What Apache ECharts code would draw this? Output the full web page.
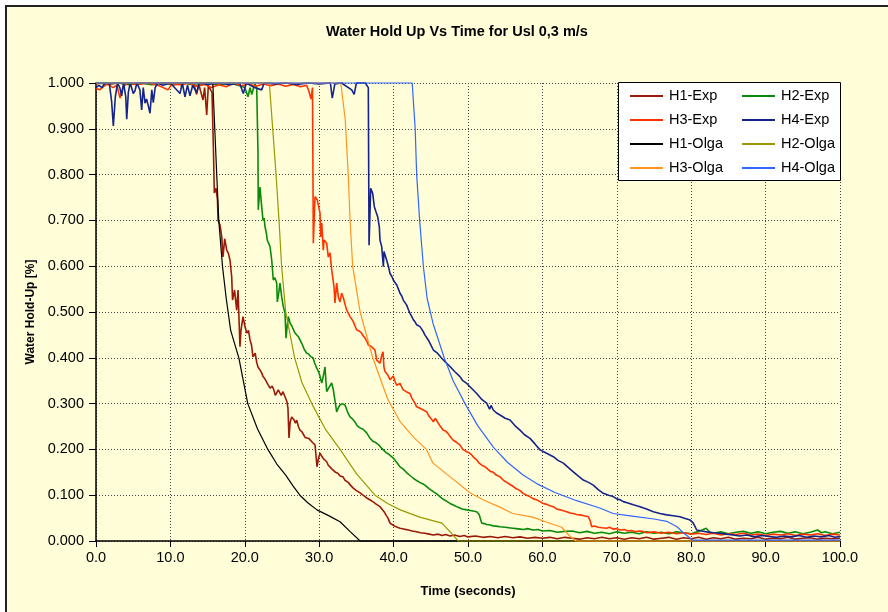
<!DOCTYPE html>
<html>
<head>
<meta charset="utf-8">
<script src="https://cdn.jsdelivr.net/npm/echarts@6/dist/echarts.min.js"></script>
<style>
  html, body { margin: 0; padding: 0; background: #ffffff; overflow: hidden; width: 888px; height: 612px; }
  #frame {
    position: absolute; left: 5px; top: 5px; width: 1000px; height: 700px;
    background: #FFFED9; border: 2px solid #222;
  }
  #chart { position: absolute; left: 0; top: 0; width: 888px; height: 612px; }
</style>
</head>
<body>
<div id="frame"></div>
<div id="chart"></div>
<script>
// Measured water hold-up [fraction] against time [s] at four probes (H1..H4)
const h1Exp = [
  [0,0.998],[0.8,1.0],[1.5,0.997],[3,1.0],[4.5,0.996],[6,1.0],[7.5,0.998],[9,1.0],[10.5,0.996],[12,1.0],
  [13.2,0.995],[13.53,0.975],[13.8,0.998],[14.38,0.963],[14.6,0.99],[14.88,0.93],[15.1,0.995],[15.4,0.985],
  [15.59,0.98],[15.79,0.85],[15.9,0.76],[16.13,0.77],[16.33,0.745],[16.4,0.70],[16.67,0.69],[16.9,0.664],
  [17.07,0.62],[17.3,0.66],[17.57,0.635],[17.8,0.628],[18.01,0.613],[18.24,0.577],[18.35,0.526],[18.62,0.548],
  [18.91,0.504],[19.09,0.548],[19.35,0.424],[19.49,0.46],[19.76,0.49],[20.0,0.47],[20.26,0.454],[20.5,0.46],
  [20.7,0.439],[20.9,0.428],[21.1,0.402],[21.4,0.41],[21.6,0.39],[21.77,0.38],[22.1,0.372],[22.3,0.366],
  [22.45,0.359],[22.7,0.354],[22.9,0.35],[23.1,0.342],[23.39,0.334],[23.7,0.338],[23.9,0.33],[24.1,0.318],
  [24.29,0.32],[24.5,0.33],[24.73,0.323],[24.9,0.318],[25.13,0.326],[25.4,0.315],[25.67,0.304],[25.8,0.29],
  [25.94,0.225],[26.1,0.26],[26.3,0.271],[26.6,0.265],[26.8,0.257],[26.98,0.264],[27.2,0.25],[27.42,0.242],
  [27.7,0.238],[27.9,0.235],[28.1,0.226],[28.32,0.228],[28.6,0.224],[28.8,0.22],[29.1,0.215],[29.44,0.21],
  [29.55,0.19],[29.7,0.162],[29.9,0.18],[30.11,0.192],[30.35,0.185],[30.55,0.18],[30.8,0.176],[31.01,0.173],
  [31.2,0.166],[31.45,0.165],[31.65,0.158],[31.85,0.155],[32.2,0.15],[32.5,0.148],[32.8,0.142],[33.2,0.14],
  [33.5,0.132],[33.9,0.128],[34.2,0.122],[34.54,0.116],[35.0,0.11],[35.5,0.105],[35.9,0.1],[36.38,0.094],
  [36.8,0.09],[37.3,0.085],[37.7,0.08],[38.17,0.075],[38.5,0.068],[38.8,0.062],[39.0,0.056],[39.25,0.05],
  [39.52,0.039],[39.9,0.035],[40.2,0.032],[40.5,0.03],[40.86,0.028],[41.4,0.026],[42.0,0.024],[42.5,0.022],
  [43.1,0.02],[43.6,0.018],[44.2,0.017],[44.8,0.015],[45.34,0.013],[46,0.015],[46.5,0.012],[47,0.014],
  [47.6,0.011],[48.2,0.013],[48.9,0.01],[49.5,0.012],[50,0.009],[51,0.011],[52,0.008],[53,0.01],[54,0.007],
  [55,0.01],[56,0.007],[57,0.009],[58,0.006],[59,0.008],[60,0.006],[61,0.008],[62,0.005],[63,0.008],
  [64,0.006],[65,0.004],[66,0.007],[67,0.005],[68,0.008],[69,0.005],[70,0.007],[71,0.004],[72,0.007],
  [73,0.005],[74,0.008],[75,0.004],[76,0.006],[77,0.008],[78,0.004],[79,0.007],[80,0.005],[81,0.008],
  [82,0.004],[83,0.007],[84,0.005],[85,0.008],[86,0.004],[87,0.006],[88,0.005],[89,0.008],[90,0.004],
  [91,0.006],[92,0.005],[93,0.008],[94,0.004],[95,0.006],[96,0.007],[97,0.004],[98,0.006],[99,0.005],[100,0.006]
];
const h2Exp = [
  [0,1.0],[1.5,0.998],[3,1.0],[4.5,0.997],[6,1.0],[7.5,0.996],[9,1.0],[10.5,0.997],[12,1.0],[13.5,0.995],
  [15,1.0],[16.5,0.996],[18,1.0],[19.3,0.994],[20.0,0.99],[20.43,0.97],[20.7,0.99],[20.93,0.975],[21.2,0.99],
  [21.37,0.998],[21.6,0.99],[21.77,0.85],[21.81,0.723],[22.04,0.773],[22.27,0.73],[22.45,0.70],[22.6,0.705],
  [22.72,0.686],[22.9,0.672],[23.02,0.657],[23.2,0.66],[23.39,0.643],[23.62,0.613],[23.83,0.57],[24.05,0.575],
  [24.29,0.563],[24.37,0.522],[24.55,0.54],[24.73,0.563],[24.96,0.533],[25.17,0.512],[25.4,0.498],[25.54,0.443],
  [25.7,0.47],[25.85,0.49],[26.1,0.475],[26.3,0.47],[26.52,0.468],[26.75,0.454],[27.0,0.45],[27.2,0.446],
  [27.42,0.439],[27.7,0.43],[28.0,0.418],[28.32,0.41],[28.6,0.408],[28.9,0.402],[29.17,0.40],[29.4,0.388],
  [29.66,0.378],[29.9,0.37],[30.1,0.36],[30.34,0.345],[30.55,0.36],[30.78,0.38],[30.9,0.35],[31.01,0.326],
  [31.3,0.335],[31.68,0.345],[31.9,0.33],[32.12,0.326],[32.35,0.282],[32.55,0.29],[32.8,0.297],[33.1,0.3],
  [33.47,0.297],[33.8,0.282],[34.14,0.271],[34.5,0.266],[34.8,0.26],[35.1,0.252],[35.48,0.247],[35.9,0.244],
  [36.38,0.236],[36.8,0.225],[37.27,0.217],[37.6,0.215],[38.0,0.21],[38.3,0.204],[38.62,0.199],[39.0,0.193],
  [39.3,0.19],[39.6,0.186],[39.96,0.181],[40.4,0.172],[40.86,0.162],[41.3,0.157],[41.7,0.15],[42.2,0.143],
  [42.65,0.137],[43.1,0.132],[43.5,0.128],[43.9,0.125],[44.2,0.122],[44.8,0.114],[45.34,0.108],[45.7,0.104],
  [46.0,0.1],[46.5,0.093],[47.0,0.088],[47.58,0.082],[48.1,0.078],[48.6,0.074],[49.2,0.07],[49.83,0.068],
  [50.5,0.066],[51.17,0.064],[51.5,0.058],[51.84,0.039],[52.2,0.038],[52.5,0.036],[53,0.035],[53.4,0.033],
  [54,0.032],[54.3,0.031],[55,0.03],[55.5,0.029],[56,0.028],[56.5,0.027],[57,0.026],[57.5,0.025],[58,0.027],
  [58.74,0.024],[59.4,0.025],[60,0.022],[61,0.023],[62,0.019],[63,0.021],[64,0.022],[65,0.018],[66,0.021],
  [67,0.017],[68,0.019],[69,0.016],[70,0.02],[71,0.017],[72,0.019],[73,0.016],[74,0.02],[75,0.017],[76,0.019],
  [77,0.016],[78,0.02],[79,0.018],[80,0.016],[81,0.021],[82,0.028],[82.5,0.019],[83,0.017],[84,0.02],
  [85,0.016],[86,0.019],[87,0.021],[88,0.017],[89,0.02],[90,0.016],[91,0.019],[92,0.021],[93,0.017],
  [94,0.02],[95,0.016],[96,0.019],[97,0.024],[97.5,0.018],[98,0.02],[99,0.016],[100,0.019]
];
const h3Exp = [
  [0,0.988],[0.5,0.985],[1.0,0.992],[1.5,0.998],[2.3,0.99],[2.8,0.995],[3.23,0.967],[3.6,0.99],[4.2,1.0],
  [5.5,0.996],[7,1.0],[8.5,0.994],[9.68,0.985],[10.2,0.998],[11.5,0.996],[12.5,1.0],[13.5,0.993],[14.6,0.997],
  [15.5,0.99],[16.5,0.996],[17.5,0.992],[18.5,1.0],[19.5,0.994],[20.5,0.998],[21.5,0.993],[22.5,0.998],
  [23.5,0.994],[24.5,0.998],[25.5,0.993],[26.5,0.997],[27.5,0.992],[28.3,0.995],[28.6,0.983],[28.9,0.965],
  [29.1,0.99],[29.21,0.65],[29.44,0.752],[29.74,0.745],[30.11,0.716],[30.2,0.664],[30.34,0.694],[30.55,0.635],
  [30.65,0.657],[31.01,0.65],[31.22,0.62],[31.45,0.629],[31.68,0.592],[31.99,0.555],[32.12,0.52],[32.35,0.563],
  [32.57,0.533],[32.8,0.522],[33.02,0.541],[33.24,0.531],[33.5,0.515],[33.7,0.504],[33.9,0.498],[34.14,0.49],
  [34.35,0.485],[34.58,0.479],[34.8,0.47],[35.04,0.461],[35.4,0.458],[35.71,0.454],[35.9,0.448],[36.16,0.443],
  [36.4,0.436],[36.6,0.428],[36.8,0.43],[37.06,0.424],[37.3,0.42],[37.5,0.417],[37.73,0.395],[37.95,0.398],
  [38.17,0.388],[38.4,0.405],[38.58,0.413],[38.7,0.38],[38.84,0.37],[39.1,0.365],[39.3,0.36],[39.52,0.352],
  [39.75,0.356],[39.96,0.36],[40.2,0.348],[40.42,0.34],[40.65,0.338],[40.86,0.344],[41.1,0.336],[41.3,0.33],
  [41.7,0.326],[42.2,0.322],[42.45,0.312],[42.65,0.308],[42.9,0.3],[43.1,0.293],[43.3,0.296],[43.55,0.29],
  [44.0,0.286],[44.45,0.282],[44.7,0.274],[44.89,0.27],[45.1,0.266],[45.34,0.26],[45.6,0.268],[45.79,0.264],
  [46.2,0.252],[46.68,0.242],[47.0,0.24],[47.3,0.235],[47.7,0.226],[48.02,0.22],[48.5,0.215],[48.9,0.21],
  [49.3,0.2],[49.83,0.195],[50.2,0.192],[50.5,0.188],[50.8,0.182],[51.17,0.177],[51.5,0.17],[51.9,0.165],
  [52.2,0.163],[52.51,0.159],[53.0,0.152],[53.4,0.15],[53.8,0.144],[54.3,0.14],[54.8,0.132],[55.2,0.128],
  [55.6,0.124],[56.09,0.119],[56.5,0.114],[57.0,0.11],[57.4,0.104],[57.89,0.1],[58.3,0.097],[58.8,0.092],
  [59.2,0.09],[59.68,0.086],[60.1,0.082],[60.6,0.08],[61.0,0.077],[61.47,0.075],[61.9,0.07],[62.4,0.068],
  [62.8,0.066],[63.27,0.064],[63.7,0.061],[64.15,0.06],[64.6,0.058],[65.05,0.057],[65.6,0.055],[66.17,0.053],
  [66.4,0.045],[66.63,0.031],[67,0.033],[67.5,0.03],[68,0.029],[68.64,0.028],[69,0.03],[69.5,0.026],
  [70,0.027],[70.4,0.024],[71,0.025],[71.5,0.022],[72,0.023],[72.5,0.02],[73,0.022],[73.5,0.021],[74,0.018],
  [75,0.02],[76,0.017],[77,0.019],[78,0.016],[79,0.018],[80,0.015],[81,0.017],[82,0.014],[83,0.017],
  [84,0.013],[85,0.016],[86,0.014],[87,0.017],[88,0.013],[89,0.015],[90,0.012],[91,0.015],[92,0.013],
  [93,0.016],[94,0.012],[95,0.015],[96,0.013],[97,0.016],[98,0.012],[99,0.015],[100,0.013]
];
const h4Exp = [
  [0,0.99],[0.4,0.995],[0.8,0.99],[1.2,1.0],[1.8,0.998],[2.1,0.96],[2.33,0.906],[2.6,0.97],[2.9,1.0],
  [3.2,0.99],[3.45,0.972],[3.7,1.0],[4.0,0.97],[4.13,0.921],[4.35,0.98],[4.6,1.0],[5.01,0.977],[5.24,0.983],
  [5.5,1.0],[5.9,0.985],[6.14,0.941],[6.35,0.99],[6.59,0.956],[6.8,0.965],[7.03,0.95],[7.26,0.934],[7.5,0.985],
  [7.7,0.957],[7.95,0.99],[8.3,1.0],[9,0.995],[10,1.0],[11.29,0.977],[11.6,1.0],[11.96,0.97],[12.3,0.995],
  [12.63,0.972],[13.0,0.995],[13.53,0.979],[13.9,1.0],[15,0.997],[16.5,1.0],[18,0.996],[19.3,1.0],[19.8,0.977],
  [20.2,1.0],[21.3,0.99],[22.27,0.985],[22.6,1.0],[24,0.998],[25.5,1.0],[27,0.997],[28.5,1.0],[30,0.998],
  [31.5,1.0],[31.76,0.967],[32.1,0.998],[33.0,1.0],[34.37,0.985],[34.7,0.975],[35.0,1.0],[36.2,1.0],[36.6,0.99],
  [36.7,0.646],[36.92,0.77],[37.19,0.759],[37.41,0.73],[37.63,0.719],[37.86,0.708],[38.08,0.686],[38.17,0.657],
  [38.4,0.643],[38.62,0.599],[38.71,0.632],[39.07,0.613],[39.3,0.6],[39.52,0.584],[39.75,0.578],[39.96,0.57],
  [40.2,0.566],[40.42,0.559],[40.65,0.55],[40.86,0.541],[41.1,0.535],[41.3,0.526],[41.55,0.522],[41.76,0.515],
  [42.0,0.505],[42.2,0.497],[42.45,0.49],[42.65,0.483],[42.9,0.478],[43.1,0.472],[43.35,0.47],[43.55,0.468],
  [43.8,0.462],[43.99,0.457],[44.2,0.45],[44.45,0.446],[44.66,0.439],[45.0,0.428],[45.34,0.417],[45.9,0.41],
  [46.47,0.399],[47.0,0.39],[47.58,0.381],[48.2,0.37],[48.92,0.359],[49.3,0.35],[49.83,0.344],[50.5,0.333],
  [51.17,0.322],[51.8,0.31],[52.51,0.301],[52.9,0.288],[53.1,0.296],[53.4,0.286],[53.8,0.28],[54.3,0.275],
  [55.0,0.268],[55.65,0.264],[56.3,0.252],[56.99,0.242],[57.6,0.232],[58.33,0.224],[59.0,0.212],[59.68,0.199],
  [60.5,0.192],[61.47,0.184],[62.1,0.176],[62.81,0.17],[63.5,0.16],[64.15,0.151],[64.8,0.142],[65.5,0.133],
  [66.2,0.128],[66.84,0.122],[67.5,0.112],[68.19,0.104],[68.9,0.1],[69.53,0.097],[70.0,0.092],[70.43,0.09],
  [70.87,0.086],[71.5,0.083],[72.22,0.079],[73.12,0.075],[74.0,0.07],[74.91,0.064],[75.8,0.06],[76.71,0.057],
  [77.6,0.055],[78.49,0.053],[79.2,0.049],[79.84,0.046],[80.28,0.039],[80.5,0.032],[80.74,0.024],[81.4,0.022],
  [82.08,0.02],[83,0.018],[83.87,0.017],[84.7,0.015],[85.62,0.013],[86.5,0.011],[87.5,0.013],[88.5,0.009],
  [89.5,0.012],[90.5,0.01],[91.5,0.008],[92.5,0.011],[93.5,0.009],[94.5,0.012],[95.5,0.008],[96.5,0.011],
  [97.5,0.009],[98.5,0.012],[99.3,0.008],[100,0.01]
];

// Simulated hold-up (OLGA) at the same probes
const h1Olga = [
  [0,1.0],[15.7,1.0],[16.2,0.81],[16.5,0.70],[17.0,0.60],[17.5,0.53],[18.1,0.46],[19.2,0.40],[20.4,0.30],
  [21.7,0.245],[23.1,0.20],[24.3,0.168],[25.5,0.144],[26.5,0.12],[27.4,0.10],[28.5,0.083],[29.7,0.068],
  [31.2,0.056],[32.8,0.042],[34.2,0.02],[35.5,0.0],[100,0.0]
];
const h2Olga = [
  [0,1.0],[23.3,1.0],[23.75,0.9],[24.2,0.8],[24.6,0.7],[24.95,0.6],[25.5,0.5],[26.7,0.4],[27.7,0.345],
  [29.0,0.3],[30.8,0.245],[32.8,0.2],[35.0,0.147],[37.5,0.1],[39.2,0.082],[40.9,0.068],[43.5,0.052],
  [46.5,0.039],[47.6,0.02],[48.7,0.0],[100,0.0]
];
const h3Olga = [
  [0,1.0],[32.9,1.0],[33.5,0.92],[33.9,0.8],[34.15,0.7],[34.5,0.6],[35.5,0.5],[37.2,0.4],[39.2,0.31],
  [40.9,0.26],[42.6,0.228],[44.4,0.2],[45.3,0.17],[47.6,0.14],[50.3,0.105],[52.3,0.088],[54.3,0.074],
  [56.0,0.06],[58.7,0.052],[60.6,0.041],[62.6,0.03],[63.6,0.012],[64.5,0.0],[100,0.0]
];
const h4Olga = [
  [0,1.0],[42.5,1.0],[42.9,0.9],[43.1,0.8],[43.5,0.7],[44.0,0.6],[44.5,0.53],[45.3,0.475],[46.8,0.4],
  [48.0,0.35],[49.6,0.3],[51.3,0.252],[53.4,0.205],[55.3,0.172],[57.4,0.144],[59.5,0.123],[61.7,0.106],
  [64.6,0.088],[67.7,0.072],[69.5,0.06],[71.3,0.056],[73.1,0.052],[75.0,0.048],[76.7,0.043],[78.1,0.031],
  [79.0,0.017],[80.2,0.002],[100,0.002]
];

const seriesNames = ['H1-Exp','H2-Exp','H3-Exp','H4-Exp','H1-Olga','H2-Olga','H3-Olga','H4-Olga'];
const seriesData = [h1Exp, h2Exp, h3Exp, h4Exp, h1Olga, h2Olga, h3Olga, h4Olga];
const seriesColors = ['#991a0a','#0a8a0a','#ff3300','#14248c','#000000','#999900','#ff9420','#3366ff'];
const seriesWidths = [1.6,1.6,1.6,1.6,1.2,1.2,1.2,1.2];

const xTicks = { min: 0, max: 100, step: 10 };
const yTicks = { min: 0, max: 1, step: 0.1 };

const FONT = 'Liberation Sans, Arial, sans-serif';
const gridLine = { show: true, lineStyle: { color: '#444', width: 1, type: [1, 2] } };

const legendCommon = {
  orient: 'vertical', top: 88, itemWidth: 33, itemHeight: 2, itemGap: 8, icon: 'rect',
  textStyle: { fontFamily: FONT, fontSize: 14.5, color: '#000', lineHeight: 16, padding: [0, 0, 0, 1] },
  padding: 0, z: 20
};

const chart = echarts.init(document.getElementById('chart'), null, { renderer: 'canvas' });

chart.setOption({
  animation: false,
  backgroundColor: 'transparent',
  title: {
    text: 'Water Hold Up Vs Time for Usl 0,3 m/s',
    left: 452, top: 19, textAlign: 'center',
    textStyle: { fontFamily: FONT, fontSize: 14.5, fontWeight: 'bold', color: '#000' }
  },
  grid: { left: 96, top: 83, width: 744, height: 458, containLabel: false },
  xAxis: {
    type: 'value', min: xTicks.min, max: xTicks.max, interval: xTicks.step,
    name: 'Time (seconds)', nameLocation: 'middle', nameGap: 44,
    nameTextStyle: { fontFamily: FONT, fontSize: 13, fontWeight: 'bold', color: '#000' },
    axisLine: { show: true, onZero: false, lineStyle: { color: '#000', width: 1.5 } },
    axisTick: { show: true, length: 6, lineStyle: { color: '#000', width: 1 } },
    axisLabel: { margin: 9, fontFamily: FONT, fontSize: 14.5, color: '#000',
                 formatter: v => v.toFixed(1) },
    splitLine: gridLine
  },
  yAxis: {
    type: 'value', min: yTicks.min, max: yTicks.max, interval: yTicks.step,
    name: 'Water Hold-Up [%]', nameLocation: 'middle', nameGap: 59, nameRotate: 90,
    nameTextStyle: { fontFamily: FONT, fontSize: 12, fontWeight: 'bold', color: '#000' },
    axisLine: { show: true, onZero: false, lineStyle: { color: '#000', width: 1.5 } },
    axisTick: { show: true, length: 7, lineStyle: { color: '#000', width: 1 } },
    axisLabel: { margin: 12, fontFamily: FONT, fontSize: 14.5, color: '#000',
                 formatter: v => v.toFixed(3) },
    splitLine: gridLine
  },
  legend: [
    Object.assign({ data: ['H1-Exp','H3-Exp','H1-Olga','H3-Olga'], left: 630 }, legendCommon),
    Object.assign({ data: ['H2-Exp','H4-Exp','H2-Olga','H4-Olga'], left: 742 }, legendCommon)
  ],
  graphic: [{
    type: 'rect', left: 618, top: 82, z: 15,
    shape: { width: 222, height: 98 },
    style: { fill: '#fff', stroke: '#000', lineWidth: 1 }
  }],
  series: seriesNames.map((name, i) => ({
    name, type: 'line', data: seriesData[i],
    symbol: 'none', showSymbol: false, clip: false,
    lineStyle: { color: seriesColors[i], width: seriesWidths[i] },
    itemStyle: { color: seriesColors[i] },
    z: 2 + i
  }))
});
</script>
</body>
</html>
